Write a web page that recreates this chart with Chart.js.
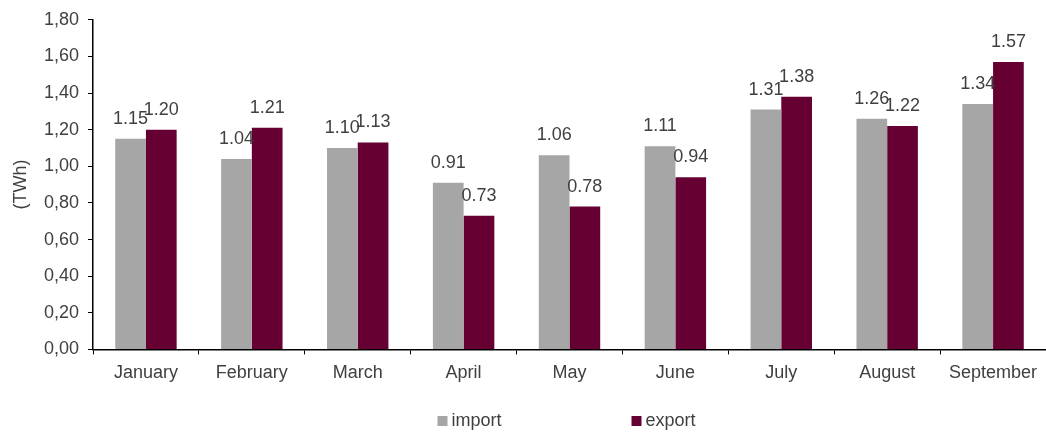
<!DOCTYPE html>
<html>
<head>
<meta charset="utf-8">
<script src="https://cdn.jsdelivr.net/npm/chart.js@4"></script>
<style>
  html, body { margin: 0; padding: 0; background: #fff; }
  #wrap { width: 1046px; height: 432px; }
</style>
</head>
<body>
<div id="wrap"><canvas id="barChart" width="1046" height="432"></canvas></div>
<script>
const months = ['January', 'February', 'March', 'April', 'May', 'June', 'July', 'August', 'September'];
const importValues = [1.15, 1.04, 1.10, 0.91, 1.06, 1.11, 1.31, 1.26, 1.34];
const exportValues = [1.20, 1.21, 1.13, 0.73, 0.78, 0.94, 1.38, 1.22, 1.57];

const textColor = '#404040';
const fontFamily = '"Liberation Sans", Arial, sans-serif';
const fontSize = 18;

// draws the value above each bar
const valueLabels = {
  id: 'valueLabels',
  afterDatasetsDraw(chart) {
    const ctx = chart.ctx;
    ctx.save();
    ctx.font = fontSize + 'px ' + fontFamily;
    ctx.fillStyle = textColor;
    ctx.textAlign = 'center';
    ctx.textBaseline = 'alphabetic';
    chart.data.datasets.forEach((ds, i) => {
      chart.getDatasetMeta(i).data.forEach((bar, j) => {
        ctx.fillText(ds.data[j].toFixed(2), bar.x, bar.y - 15);
      });
    });
    ctx.restore();
  }
};

// legend below the plot, items spaced wide apart like the original
const wideLegend = {
  id: 'wideLegend',
  afterDraw(chart) {
    const ctx = chart.ctx;
    const cx = (chart.chartArea.left + chart.chartArea.right) / 2;
    const y = 421;
    const offsets = [-132, 62];
    ctx.save();
    ctx.font = fontSize + 'px ' + fontFamily;
    ctx.textBaseline = 'middle';
    ctx.textAlign = 'left';
    chart.data.datasets.forEach((ds, i) => {
      const x = cx + offsets[i];
      ctx.fillStyle = ds.backgroundColor;
      ctx.fillRect(x, y - 5, 10, 10);
      ctx.fillStyle = textColor;
      ctx.fillText(ds.label, x + 14, y);
    });
    ctx.restore();
  }
};

const barData = {
  labels: months,
  datasets: [{
      label: 'import',
      data: importValues,
      backgroundColor: '#a6a6a6',
      categoryPercentage: 0.58,
      barPercentage: 1.0
  }, {
      label: 'export',
      data: exportValues,
      backgroundColor: '#660033',
      categoryPercentage: 0.58,
      barPercentage: 1.0
  }]
};

const barConfig = {
  type: 'bar',
  data: barData,
  plugins: [valueLabels, wideLegend],
  options: {
      responsive: false,
      animation: false,
      layout: { padding: { top: 0, right: 0, left: 0, bottom: 40 } },
      scales: {
          x: {
              grid: {
                  display: true,
                  offset: true,
                  drawOnChartArea: false,
                  drawTicks: true,
                  tickLength: 5,
                  tickColor: '#000'
              },
              border: { display: true, color: '#000', width: 1.5 },
              ticks: {
                  color: textColor,
                  font: { family: fontFamily, size: fontSize },
                  padding: 8,
                  maxRotation: 0
              }
          },
          y: {
              min: 0,
              max: 1.8,
              grid: {
                  display: true,
                  drawOnChartArea: false,
                  drawTicks: true,
                  tickLength: 5,
                  tickColor: '#000'
              },
              border: { display: true, color: '#000', width: 1.5 },
              ticks: {
                  stepSize: 0.2,
                  color: textColor,
                  font: { family: fontFamily, size: fontSize },
                  padding: 9,
                  callback: v => v.toFixed(2).replace('.', ',')
              },
              title: {
                  display: true,
                  text: '(TWh)',
                  color: textColor,
                  font: { family: fontFamily, size: fontSize },
                  padding: { top: 10, bottom: 0 }
              },
              afterFit: s => { s.width = 93; }
          }
      },
      plugins: {
          legend: { display: false },
          tooltip: { enabled: false }
      }
  }
};

new Chart(document.getElementById('barChart').getContext('2d'), barConfig);
</script>
</body>
</html>
